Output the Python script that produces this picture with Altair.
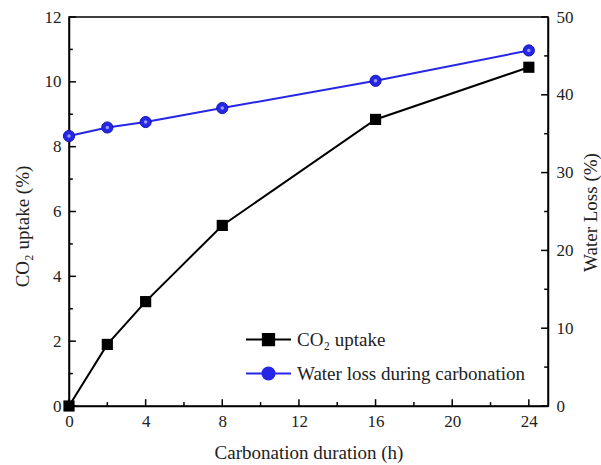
import altair as alt
import pandas as pd

# ---- data ----
hours = [0, 2, 4, 8, 16, 24]
co2_uptake = [0.0, 1.9, 3.22, 5.57, 8.84, 10.45]
water_loss = [34.7, 35.8, 36.5, 38.3, 41.8, 45.7]

series_names = ["CO₂ uptake", "Water loss during carbonation"]

x_major = [0, 4, 8, 12, 16, 20, 24]
x_minor = [2, 6, 10, 14, 18, 22]
yl_major = [0, 2, 4, 6, 8, 10, 12]
yl_minor = [1, 3, 5, 7, 9, 11]
yr_major = [0, 10, 20, 30, 40, 50]
yr_minor = [5, 15, 25, 35, 45]

FONT = "Liberation Serif"
TXT = "#222222"
BLUE = "#2626e6"

df = pd.DataFrame({"hours": hours, "co2": co2_uptake, "water": water_loss})

XT = "Carbonation duration (h)"
YLT = "CO₂ uptake (%)"
YRT = "Water Loss (%)"

xscale = alt.Scale(domain=[0, 25], nice=False, zero=False)
ylscale = alt.Scale(domain=[0, 12], nice=False)
yrscale = alt.Scale(domain=[0, 50], nice=False)

common = dict(ticks=False, grid=False, domainColor="black", domainWidth=1.5,
              labelFont=FONT, labelFontSize=17, labelColor=TXT, labelFlush=False,
              titleFont=FONT, titleFontSize=19, titleColor=TXT,
              titleFontWeight="normal", format="d")
x_axis = alt.Axis(values=x_major, labelPadding=7, titlePadding=14, **common)
yl_axis = alt.Axis(values=yl_major, labelPadding=8, titleX=-47, titleY=209,
                   titleBaseline="middle", titleAlign="center", titleAngle=270, **common)
yr_axis = alt.Axis(values=yr_major, labelPadding=8, orient="right", titleX=42,
                   titleY=195, titleBaseline="middle", titleAlign="center",
                   titleAngle=270, **common)


def X(field):
    return alt.X(field, scale=xscale, axis=x_axis, title=XT)


def YL(field):
    return alt.Y(field, scale=ylscale, axis=yl_axis, title=YLT)


def YR(field):
    return alt.Y(field, scale=yrscale, axis=yr_axis, title=YRT)


base = alt.Chart(df)

co2_line = base.mark_line(color="black", strokeWidth=2).encode(x=X("hours:Q"), y=YL("co2:Q"))
co2_pts = base.mark_point(shape="square", filled=True, color="black", size=125,
                          opacity=1).encode(x=X("hours:Q"), y=YL("co2:Q"))

wat_line = base.mark_line(color=BLUE, strokeWidth=2).encode(x=X("hours:Q"), y=YR("water:Q"))
wat_pts = base.mark_point(shape="circle", filled=True, fill=BLUE, stroke="#1414b4",
                          strokeWidth=1, size=125, opacity=1).encode(x=X("hours:Q"), y=YR("water:Q"))
wat_hi = base.mark_point(shape="circle", filled=True, color="#9a9aff", size=12,
                         opacity=1, dx=-1, dy=-2).encode(x=X("hours:Q"), y=YR("water:Q"))


def tick_df(vals, start, end):
    return pd.DataFrame({"v": vals, "a": [start] * len(vals), "b": [end] * len(vals)})


RULE = dict(color="black", strokeWidth=1.5, opacity=1)
# inward ticks, placed through the scales
xt_major = alt.Chart(tick_df(x_major, 0, 0.21)).mark_rule(**RULE).encode(
    x=X("v:Q"), y=YL("a:Q"), y2="b:Q")
xt_minor = alt.Chart(tick_df(x_minor, 0, 0.12)).mark_rule(**RULE).encode(
    x=X("v:Q"), y=YL("a:Q"), y2="b:Q")
ylt_major = alt.Chart(tick_df(yl_major, 0, 0.36)).mark_rule(**RULE).encode(
    y=YL("v:Q"), x=X("a:Q"), x2="b:Q")
ylt_minor = alt.Chart(tick_df(yl_minor, 0, 0.2)).mark_rule(**RULE).encode(
    y=YL("v:Q"), x=X("a:Q"), x2="b:Q")
yrt_major = alt.Chart(tick_df(yr_major, 25, 24.64)).mark_rule(**RULE).encode(
    y=YR("v:Q"), x=X("a:Q"), x2="b:Q")
yrt_minor = alt.Chart(tick_df(yr_minor, 25, 24.8)).mark_rule(**RULE).encode(
    y=YR("v:Q"), x=X("a:Q"), x2="b:Q")

# legend (symbols = short line with marker, as custom shapes)
sq_path = "M-1,0H1M-0.25,-0.25H0.25V0.25H-0.25Z"
ci_path = "M0.27,0A0.27,0.27,0,1,1,-0.27,0A0.27,0.27,0,1,1,0.27,0Z M-1,0H1"
leg = alt.Legend(title=None, orient="none", legendX=176, legendY=299,
                 labelFont=FONT, labelFontSize=19, labelColor=TXT, labelOffset=5,
                 symbolSize=2025, symbolStrokeWidth=2, symbolOpacity=1,
                 rowPadding=-15, padding=0, labelLimit=400)
legend_df = pd.DataFrame({"series": series_names, "hours": [0, 0], "co2": [0, 0]})
legend_layer = alt.Chart(legend_df).mark_point(filled=True, size=2025, strokeWidth=2,
                                               opacity=1).encode(
    x=X("hours:Q"), y=YL("co2:Q"),
    fill=alt.Fill("series:N", scale=alt.Scale(domain=series_names, range=["black", BLUE]),
                  legend=leg),
    stroke=alt.Stroke("series:N", scale=alt.Scale(domain=series_names, range=["black", BLUE]),
                      legend=leg),
    shape=alt.Shape("series:N", scale=alt.Scale(domain=series_names, range=[sq_path, ci_path]),
                    legend=leg),
).transform_filter("false")

left = alt.layer(co2_line, co2_pts, legend_layer, xt_major, xt_minor, ylt_major, ylt_minor)
right = alt.layer(wat_line, wat_pts, wat_hi, yrt_major, yrt_minor)

chart = alt.layer(left, right).resolve_scale(y="independent").properties(
    width=479, height=389,
    autosize=alt.AutoSizeParams(type="none"),
    padding={"left": 69, "top": 17, "right": 53, "bottom": 59},
    background="white",
).configure_view(stroke="black", strokeWidth=1.5)

chart.save("out.html", embed_options={"renderer": "svg", "actions": False})
